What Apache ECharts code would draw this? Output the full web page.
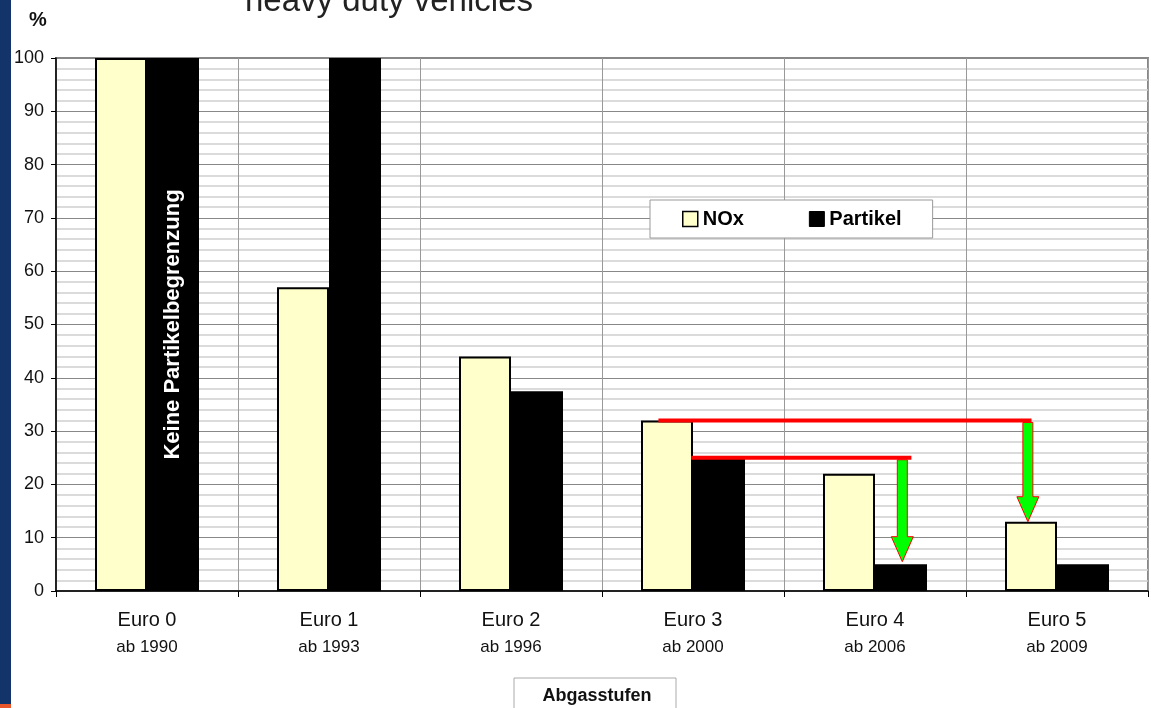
<!DOCTYPE html>
<html>
<head>
<meta charset="utf-8">
<script src="https://cdn.jsdelivr.net/npm/echarts@6/dist/echarts.min.js"></script>
<style>
  html, body { margin: 0; padding: 0; background: #fff; }
  #chart { width: 1151px; height: 708px; }
</style>
</head>
<body>
<div id="chart"></div>
<script>
// Abgasstufen LKW - NOx / Partikel in %
var stages = ['Euro 0', 'Euro 1', 'Euro 2', 'Euro 3', 'Euro 4', 'Euro 5'];
var years = ['ab 1990', 'ab 1993', 'ab 1996', 'ab 2000', 'ab 2006', 'ab 2009'];
var noxValues = [100, 57, 44, 32, 22, 13];
var partikelValues = [100, 100, 37.5, 25, 5, 5];
var noLimitText = 'Keine Partikelbegrenzung';

// rote Linien: [x von, x bis, y]  (x in Kategorien-Einheiten)
var redLines = [
  [3.31, 5.36, 32],
  [3.49, 4.70, 25]
];
// grüne Pfeile: [x, y von, y bis]
var greenArrows = [
  [4.65, 25, 5.5],
  [5.34, 32, 13]
];

var font = '"Liberation Sans", Arial, sans-serif';

var partikelData = partikelValues.map(function (v, i) {
  if (i === 0) {
    return {
      value: v,
      label: {
        show: true,
        position: 'inside',
        rotate: 90,
        formatter: noLimitText,
        color: '#fff',
        fontWeight: 'bold',
        fontSize: 22,
        fontFamily: font
      }
    };
  }
  return v;
});

var myChart = echarts.init(document.getElementById('chart'));
var option = {
  animation: false,
  backgroundColor: '#fff',
  textStyle: { fontFamily: font },
  grid: {
    left: 56, right: 3, top: 58, bottom: 117,
    show: true, borderColor: '#888', borderWidth: 2, backgroundColor: 'transparent'
  },
  legend: {
    left: 650, top: 200,
    padding: [9, 31, 9, 32],
    itemGap: 65,
    itemWidth: 15, itemHeight: 15,
    backgroundColor: '#fff',
    borderColor: '#999', borderWidth: 1,
    textStyle: { fontSize: 20, fontWeight: 'bold', color: '#000', fontFamily: font },
    data: [
      { name: 'NOx', icon: 'rect', itemStyle: { color: '#FFFFCC', borderColor: '#000', borderWidth: 1.5 } },
      { name: 'Partikel', icon: 'rect', itemStyle: { color: '#000', borderColor: '#000', borderWidth: 1 } }
    ]
  },
  xAxis: [
    {
      type: 'category',
      data: stages,
      boundaryGap: true,
      axisLine: { lineStyle: { color: '#000', width: 1.5 } },
      axisTick: { show: true, length: 6, lineStyle: { color: '#000' } },
      splitLine: { show: true, lineStyle: { color: '#999', width: 1 } },
      axisLabel: {
        margin: 16,
        interval: 0,
        formatter: function (v, i) {
          return '{a|' + v + '}\n{b|' + years[i] + '}';
        },
        rich: {
          a: { fontSize: 20, color: '#111', lineHeight: 27, fontFamily: font },
          b: { fontSize: 17, color: '#111', lineHeight: 27, fontFamily: font }
        }
      }
    },
    { type: 'value', min: 0, max: 6, show: false }
  ],
  yAxis: {
    type: 'value',
    min: 0, max: 100, interval: 10,
    axisLine: { show: true, lineStyle: { color: '#000', width: 1.5 } },
    axisTick: { show: true, length: 5, lineStyle: { color: '#000' } },
    axisLabel: { margin: 12, fontSize: 18, color: '#111', fontFamily: font },
    splitLine: { show: true, lineStyle: { color: '#888', width: 1 } },
    minorTick: { show: false, splitNumber: 5 },
    minorSplitLine: { show: true, lineStyle: { color: '#d0d0d0', width: 1.5 } }
  },
  series: [
    {
      name: 'NOx', type: 'bar', data: noxValues,
      barWidth: 52, barGap: '0%',
      itemStyle: { color: '#FFFFCC', borderColor: '#000', borderWidth: 2 }
    },
    {
      name: 'Partikel', type: 'bar', data: partikelData,
      barWidth: 52, barGap: '0%',
      itemStyle: { color: '#000', borderColor: '#000', borderWidth: 2 }
    },
    {
      // grüne Pfeile
      type: 'custom', xAxisIndex: 1, z: 5,
      encode: { x: 0, y: [1, 2] },
      data: greenArrows,
      renderItem: function (params, api) {
        var top = api.coord([api.value(0), api.value(1)]);
        var tip = api.coord([api.value(0), api.value(2)]);
        var x = top[0], hw = 5, hh = 11, headLen = 25;
        var yb = tip[1] - headLen;
        return {
          type: 'polygon',
          shape: {
            points: [
              [x - hw, top[1] + 2], [x + hw, top[1] + 2], [x + hw, yb],
              [x + hh, yb], [x, tip[1]], [x - hh, yb], [x - hw, yb]
            ]
          },
          style: { fill: '#00FF00', stroke: '#FF0000', lineWidth: 1 }
        };
      }
    },
    {
      // rote Linien
      type: 'custom', xAxisIndex: 1, z: 6,
      encode: { x: [0, 1], y: 2 },
      data: redLines,
      renderItem: function (params, api) {
        var p0 = api.coord([api.value(0), api.value(2)]);
        var p1 = api.coord([api.value(1), api.value(2)]);
        return {
          type: 'line',
          shape: { x1: p0[0], y1: p0[1], x2: p1[0], y2: p1[1] },
          style: { stroke: '#FF0000', lineWidth: 4 }
        };
      }
    }
  ],
  graphic: [
    {
      type: 'text', left: 245, top: -15, z: 10,
      style: { text: 'heavy duty vehicles', font: '33px ' + font, fill: '#222' }
    },
    {
      type: 'text', left: 29, top: 10, z: 10,
      style: { text: '%', font: 'bold 20px ' + font, fill: '#111' }
    },
    {
      type: 'rect', z: 100,
      shape: { x: 0, y: 0, width: 11, height: 704 },
      style: { fill: '#13336B' }
    },
    {
      type: 'rect', z: 100,
      shape: { x: 0, y: 704, width: 11, height: 4 },
      style: { fill: '#E8562A' }
    },
    {
      type: 'rect', z: 10,
      shape: { x: 514, y: 678, width: 162, height: 40 },
      style: { fill: '#fff', stroke: '#aaa', lineWidth: 1 }
    },
    {
      type: 'text', z: 11, x: 597, y: 696,
      style: {
        text: 'Abgasstufen', font: 'bold 18px ' + font, fill: '#111',
        align: 'center', verticalAlign: 'middle'
      }
    }
  ]
};
myChart.setOption(option);
</script>
</body>
</html>
